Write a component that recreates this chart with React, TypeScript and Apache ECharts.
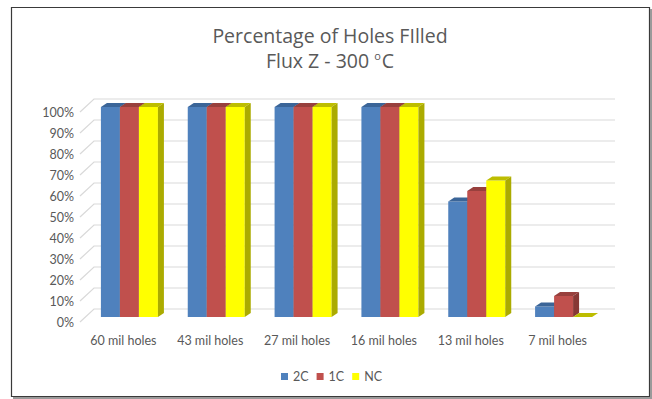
import React, { useEffect, useRef } from "react";
import * as echarts from "echarts";

const categories = ["60 mil holes", "43 mil holes", "27 mil holes", "16 mil holes", "13 mil holes", "7 mil holes"];
const seriesNames = ["2C", "1C", "NC"];
const values2C = [1, 1, 1, 1, 0.55, 0.05];
const values1C = [1, 1, 1, 1, 0.6, 0.1];
const valuesNC = [1, 1, 1, 1, 0.65, 0];
const yTicks = [0, 0.1, 0.2, 0.3, 0.4, 0.5, 0.6, 0.7, 0.8, 0.9, 1];

const FRONT = ["#4F81BD", "#C0504D", "#FFFF00"];
const TOP = ["#3B6598", "#98403D", "#BDBD00"];
const SIDE = ["#355B88", "#873835", "#ABAB00"];

const FONT = "Lato, 'Liberation Sans', sans-serif";
const TITLE_FONT = "'Open Sans', Lato, sans-serif";
const TEXT = "#595959";

const BW = 19; // bar width
const OX = 6; // bar offset from front plane
const OY = -5;
const DX = 6; // bar depth
const DY = 4;
const BACK_X = 14; // back plane offset
const BACK_Y = -13;

export default function App() {
  const ref = useRef<HTMLDivElement>(null);
  useEffect(() => {
    if (!ref.current) return;
    const chart = echarts.init(ref.current, null, { renderer: "svg" });

    const allValues = [values2C, values1C, valuesNC];

    const barSeries = allValues.map((vals, k) => ({
      type: "custom",
      name: seriesNames[k],
      z: 3,
      itemStyle: { color: FRONT[k] },
      data: vals.map((v, i) => [i, v]),
      encode: { x: 0, y: 1 },
      renderItem: (params: any, api: any) => {
        const idx = api.value(0);
        const val = api.value(1);
        const top = api.coord([idx, val]);
        const base = api.coord([idx, 0]);
        const x0 = top[0] - 1.5 * BW + k * BW + OX;
        const yTop = top[1] + OY;
        const yBase = base[1] + OY;
        return {
          type: "group",
          children: [
            {
              type: "rect",
              shape: { x: x0, y: yTop, width: BW, height: Math.max(0, yBase - yTop) },
              style: { fill: FRONT[k] },
            },
            {
              type: "polygon",
              shape: {
                points: [
                  [x0, yTop],
                  [x0 + DX, yTop - DY],
                  [x0 + BW + DX, yTop - DY],
                  [x0 + BW, yTop],
                ],
              },
              style: { fill: TOP[k] },
            },
            {
              type: "polygon",
              shape: {
                points: [
                  [x0 + BW, yTop],
                  [x0 + BW + DX, yTop - DY],
                  [x0 + BW + DX, yBase - DY],
                  [x0 + BW, yBase],
                ],
              },
              style: { fill: SIDE[k] },
            },
          ],
        };
      },
    }));

    const gridSeries = {
      type: "custom",
      name: "grid",
      z: 1,
      silent: true,
      data: yTicks.map((t) => [0, t]),
      encode: { x: 0, y: 1 },
      renderItem: (params: any, api: any) => {
        const cs = params.coordSys;
        const y = api.coord([0, api.value(1)])[1];
        const x0 = cs.x;
        return {
          type: "polyline",
          shape: {
            points: [
              [x0, y],
              [x0 + BACK_X, y + BACK_Y],
              [x0 + cs.width + BACK_X, y + BACK_Y],
            ],
          },
          style: { stroke: "#D9D9D9", lineWidth: 1.2, fill: "none" },
        };
      },
    };

    chart.setOption({
      animation: false,
      backgroundColor: "#FFFFFF",
      textStyle: { fontFamily: FONT },
      graphic: [
        {
          type: "rect",
          shape: { x: 11.5, y: 7.5, width: 638, height: 389 },
          style: { fill: "none", stroke: "#3A3A3A", lineWidth: 1.2 },
          z: 0,
        },
        {
          type: "polyline",
          shape: { points: [[651, 9], [651, 398], [13, 398]] },
          style: { fill: "none", stroke: "#9A9A9A", lineWidth: 2 },
          z: 0,
        },
        {
          type: "text",
          x: 330,
          y: 35,
          style: {
            text: "Percentage of Holes FIlled",
            fill: TEXT,
            font: `19.5px ${TITLE_FONT}`,
            textAlign: "center",
            textVerticalAlign: "middle",
          },
        },
        {
          type: "text",
          x: 330,
          y: 60,
          style: {
            text: "Flux Z - 300 {sup|o}C",
            fill: TEXT,
            font: `19.5px ${TITLE_FONT}`,
            textAlign: "center",
            textVerticalAlign: "middle",
            rich: {
              sup: { fontSize: 11, fill: TEXT, fontFamily: TITLE_FONT, verticalAlign: "top", padding: [0, 1, 8, 0] },
            },
          },
        },
      ],
      legend: {
        data: seriesNames,
        top: 365,
        left: 276,
        icon: "rect",
        itemWidth: 7,
        itemHeight: 7,
        itemGap: 8,
        textStyle: { color: TEXT, fontSize: 12.5, fontFamily: FONT },
      },
      grid: { left: 80, right: 51, top: 112, bottom: 77, containLabel: false, outerBoundsMode: "none" },
      xAxis: {
        type: "category",
        data: categories,
        axisLine: { show: false },
        axisTick: { show: false },
        splitLine: { show: false },
        axisLabel: { color: TEXT, fontSize: 12.5, fontFamily: FONT, margin: 12, interval: 0 },
      },
      yAxis: {
        type: "value",
        min: 0,
        max: 1,
        interval: 0.1,
        axisLine: { show: false },
        axisTick: { show: false },
        splitLine: { show: false },
        axisLabel: {
          color: TEXT,
          fontSize: 12.5,
          fontFamily: FONT,
          margin: 6,
          formatter: (v: number) => `${Math.round(v * 100)}%`,
        },
      },
      series: [gridSeries, ...barSeries],
    });
    return () => chart.dispose();
  }, []);
  return <div ref={ref} style={{ position: "fixed", left: 0, top: 0, width: 652, height: 399 }} />;
}
